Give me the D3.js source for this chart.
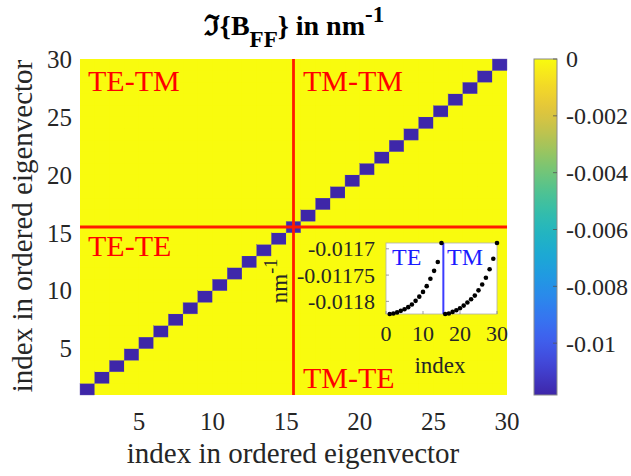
<!DOCTYPE html>
<html><head><meta charset="utf-8">
<script src="https://cdn.jsdelivr.net/npm/d3@7"></script>
<style>body{margin:0;background:#fff}svg{display:block}</style>
</head><body>
<svg id="c" width="631" height="476"></svg>
<script>
// ---------- data ----------
const indices = d3.range(1, 31);                 // 1..30
const eigVals = [
  -0.011824, -0.011823, -0.011821, -0.011818, -0.011815,
  -0.011811, -0.011806, -0.011799, -0.011791, -0.011782,
  -0.011771, -0.011757, -0.011742, -0.011725, -0.011689,
  -0.011824, -0.011823, -0.011820, -0.011817, -0.011813,
  -0.011808, -0.011802, -0.011796, -0.011789, -0.011779,
  -0.011768, -0.011755, -0.011739, -0.011719, -0.011689
];
const axisTicks = [5, 10, 15, 20, 25, 30];
const cbTicks = [0, -0.002, -0.004, -0.006, -0.008, -0.01];
const cbTickLabels = ["0", "-0.002", "-0.004", "-0.006", "-0.008", "-0.01"];
const insetXTicks = [0, 10, 20, 30];
const insetYTicks = [-0.0117, -0.01175, -0.0118];
const insetYTickLabels = ["-0.0117", "-0.01175", "-0.0118"];
const regionLabels = [
  {text: "TE-TM", col: 0, row: 1},
  {text: "TM-TM", col: 1, row: 1},
  {text: "TE-TE", col: 0, row: 0},
  {text: "TM-TE", col: 1, row: 0}
];
const splitAt = 15.5;
const parulaStops = ["#3e26a8", "#4658f5", "#2b88ef", "#14aed4", "#36c2a3", "#92c85f", "#f2bb3b", "#f9fb0e"];

// ---------- layout ----------
const svg = d3.select("#c");
const font = "'Liberation Serif','Times New Roman',serif";
const L = 80, R = 507, T = 59, B = 395;
const x = d3.scaleLinear().domain([1, 30]).range([L, R]);
const y = d3.scaleLinear().domain([1, 30]).range([B, T]);
const vmin = d3.min(eigVals);
const color = d3.scaleSequential(d3.interpolateRgbBasis(parulaStops)).domain([vmin, 0]);

// heatmap cells (pcolor: 29x29 cells, value at lower-left vertex)
const cells = [];
for (let i = 1; i < 30; i++) for (let j = 1; j < 30; j++)
  cells.push({i, j, v: i === j ? eigVals[i - 1] : 0});
svg.append("rect").attr("x", L).attr("y", T).attr("width", R - L).attr("height", B - T).attr("fill", color(0));
svg.append("g").selectAll("rect").data(cells).join("rect")
  .attr("x", d => x(d.i)).attr("y", d => y(d.j + 1))
  .attr("width", d => x(d.i + 1) - x(d.i)).attr("height", d => y(d.j) - y(d.j + 1))
  .attr("fill", d => color(d.v))
  .attr("stroke", d => d.v === 0 ? "none" : "#6a5ab0").attr("stroke-width", 0.4);

// red separators
svg.append("line").attr("x1", x(splitAt)).attr("x2", x(splitAt)).attr("y1", T).attr("y2", B)
  .attr("stroke", "#ff1a00").attr("stroke-width", 2.8);
svg.append("line").attr("x1", L).attr("x2", R).attr("y1", y(splitAt)).attr("y2", y(splitAt))
  .attr("stroke", "#ff1a00").attr("stroke-width", 2.8);

// region labels
const labPos = {
  "0_1": [88, 91], "1_1": [303, 91], "0_0": [88, 256], "1_0": [303, 388]
};
svg.append("g").selectAll("text").data(regionLabels).join("text")
  .attr("x", d => labPos[d.col + "_" + d.row][0]).attr("y", d => labPos[d.col + "_" + d.row][1])
  .attr("font-family", font).attr("font-size", 30).attr("fill", "#ff0000").text(d => d.text);

// axes tick labels
svg.append("g").selectAll("text").data(axisTicks).join("text")
  .attr("x", d => x(d)).attr("y", 430).attr("text-anchor", "middle")
  .attr("font-family", font).attr("font-size", 25).attr("fill", "#262626").text(d => d);
svg.append("g").selectAll("text").data(axisTicks).join("text")
  .attr("x", 72).attr("y", d => y(d)).attr("dy", "0.35em").attr("text-anchor", "end")
  .attr("font-family", font).attr("font-size", 25).attr("fill", "#262626").text(d => d);

// axis labels
svg.append("text").attr("x", 293).attr("y", 463).attr("text-anchor", "middle")
  .attr("font-family", font).attr("font-size", 29).attr("fill", "#262626")
  .text("index in ordered eigenvector");
svg.append("text").attr("transform", "translate(32,226) rotate(-90)").attr("text-anchor", "middle")
  .attr("font-family", font).attr("font-size", 29).attr("fill", "#262626")
  .text("index in ordered eigenvector");

// title
const title = svg.append("text").attr("x", 294).attr("y", 35).attr("text-anchor", "middle")
  .attr("font-family", font + ",'DejaVu Serif'").attr("font-weight", "bold").attr("font-size", 28).attr("fill", "#000");
title.append("tspan").text("\u2111{B");
title.append("tspan").attr("dy", 12).attr("font-size", 23).text("FF");
title.append("tspan").attr("dy", -12).text("} in nm");
title.append("tspan").attr("dy", -13).attr("font-size", 23).text("-1");

// colorbar
const cbL = 534, cbW = 23;
const cy = d3.scaleLinear().domain([vmin, 0]).range([B, T]);
const grad = svg.append("defs").append("linearGradient").attr("id", "cbg")
  .attr("x1", 0).attr("y1", 1).attr("x2", 0).attr("y2", 0);
d3.range(0, 1.0001, 0.02).forEach(t => grad.append("stop").attr("offset", t)
  .attr("stop-color", color(vmin + t * (0 - vmin))));
svg.append("rect").attr("x", cbL).attr("y", T).attr("width", cbW).attr("height", B - T)
  .attr("fill", "url(#cbg)").attr("stroke", "#8a8a8a").attr("stroke-width", 1);
svg.append("g").selectAll("line").data(cbTicks).join("line")
  .attr("x1", cbL + cbW - 4).attr("x2", cbL + cbW).attr("y1", d => cy(d)).attr("y2", d => cy(d))
  .attr("stroke", "#555").attr("stroke-width", 0.8);
svg.append("g").selectAll("text").data(cbTicks).join("text")
  .attr("x", 566).attr("y", d => cy(d)).attr("dy", "0.35em")
  .attr("font-family", font).attr("font-size", 24).attr("fill", "#262626")
  .text((d, i) => cbTickLabels[i]);

// ---------- inset ----------
const iL = 386, iR = 497, iT = 243, iB = 314;
const ix = d3.scaleLinear().domain([0, 30]).range([iL, iR]);
const iy = d3.scaleLinear().domain([d3.min(eigVals), d3.max(eigVals)]).range([iB, iT]);
svg.append("rect").attr("x", iL).attr("y", iT).attr("width", iR - iL).attr("height", iB - iT)
  .attr("fill", "#fff").attr("stroke", "#b0b0b0").attr("stroke-width", 0.8);
svg.append("g").selectAll("line").data(insetXTicks).join("line")
  .attr("x1", d => ix(d)).attr("x2", d => ix(d)).attr("y1", iB).attr("y2", iB - 3)
  .attr("stroke", "#777").attr("stroke-width", 0.7);
svg.append("g").selectAll("line").data(insetYTicks).join("line")
  .attr("x1", iL).attr("x2", iL + 3).attr("y1", d => iy(d)).attr("y2", d => iy(d))
  .attr("stroke", "#777").attr("stroke-width", 0.7);
svg.append("line").attr("x1", ix(splitAt)).attr("x2", ix(splitAt)).attr("y1", iT).attr("y2", iB)
  .attr("stroke", "#3c3cff").attr("stroke-width", 2);
svg.append("g").selectAll("circle").data(indices).join("circle")
  .attr("cx", d => ix(d)).attr("cy", (d, k) => iy(eigVals[k])).attr("r", 2.3).attr("fill", "#000");
svg.append("text").attr("x", 392).attr("y", 265).attr("font-family", font).attr("font-size", 24)
  .attr("fill", "#1a1aff").text("TE");
svg.append("text").attr("x", 447).attr("y", 265).attr("font-family", font).attr("font-size", 24)
  .attr("fill", "#1a1aff").text("TM");
svg.append("g").selectAll("text").data(insetXTicks).join("text")
  .attr("x", d => ix(d)).attr("y", 341).attr("text-anchor", "middle")
  .attr("font-family", font).attr("font-size", 22).attr("fill", "#262626").text(d => d);
svg.append("g").selectAll("text").data(insetYTicks).join("text")
  .attr("x", 375).attr("y", d => iy(d)).attr("dy", "0.35em").attr("text-anchor", "end")
  .attr("font-family", font).attr("font-size", 22).attr("fill", "#262626")
  .text((d, i) => insetYTickLabels[i]);
svg.append("text").attr("x", 440).attr("y", 373).attr("text-anchor", "middle")
  .attr("font-family", font).attr("font-size", 23).attr("fill", "#262626").text("index");
const yl = svg.append("text").attr("transform", "translate(287,281) rotate(-90)").attr("text-anchor", "middle")
  .attr("font-family", font).attr("font-size", 23).attr("fill", "#262626");
yl.append("tspan").text("nm");
yl.append("tspan").attr("dy", -10).attr("font-size", 18).text("-1");
</script>
</body></html>
